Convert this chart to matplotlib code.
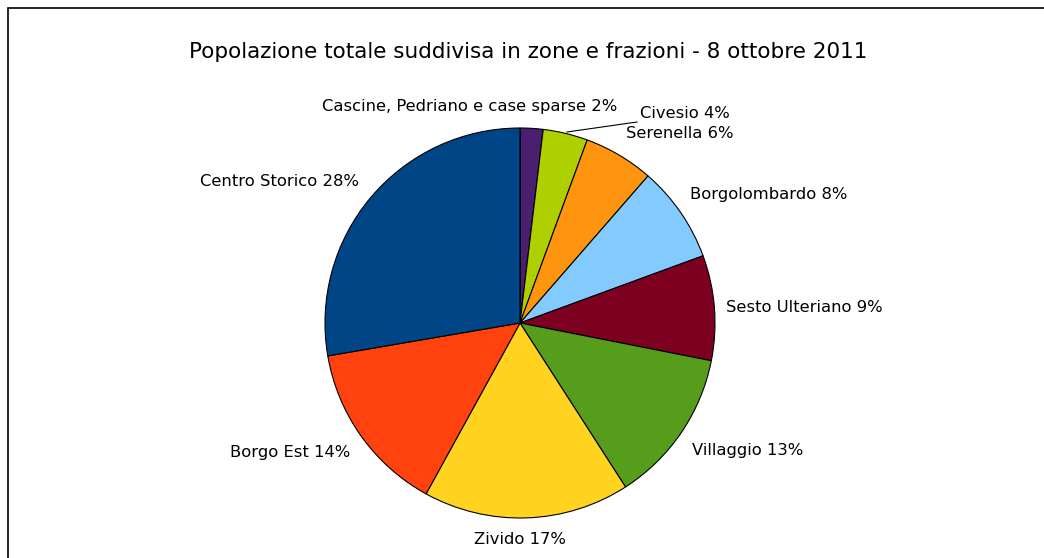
import matplotlib
matplotlib.use("Agg")
import matplotlib.pyplot as plt
from matplotlib.patches import Rectangle

# ----------------------------
# data (shares, clockwise from 12 o'clock)
# ----------------------------
ZONES = ["Cascine, Pedriano e case sparse", "Civesio", "Serenella", "Borgolombardo",
         "Sesto Ulteriano", "Villaggio", "Zivido", "Borgo Est", "Centro Storico"]
SHARES = [1.9, 3.7, 5.8, 8.0, 8.7, 12.8, 17.1, 14.3, 27.7]
COLORS = ["#4b1f6f", "#aecf00", "#ff950e", "#83caff", "#7e0021",
          "#579d1c", "#ffd320", "#ff420e", "#004586"]
TITLE = "Popolazione totale suddivisa in zone e frazioni - 8 ottobre 2011"

# label layout in pixel coords (x, y from top, horizontal alignment)
LABEL_POS = [(322, 107, "left"), (640, 113, "left"), (626, 133, "left"),
             (690, 195, "left"), (726, 308, "left"), (692, 450, "left"),
             (474, 540, "left"), (350, 453, "right"), (359, 181, "right")]

W, H = 1044, 558
CX, CY, R = 520, 323, 195

fig = plt.figure(figsize=(W / 100, H / 100), dpi=100)
ax = fig.add_axes([0, 0, 1, 1])
ax.set_xlim(0, W)
ax.set_ylim(0, H)
ax.set_aspect("equal")
ax.axis("off")

# frame (cropped on right and bottom in the original)
ax.add_patch(Rectangle((8, -10), W + 20, H - 8 + 10, fill=False,
                       edgecolor="black", linewidth=1.2))

wedges, _ = ax.pie(SHARES, colors=COLORS, startangle=90, counterclock=False,
                   center=(CX, H - CY), radius=R,
                   wedgeprops=dict(edgecolor="black", linewidth=0.8))
ax.set_xlim(0, W)
ax.set_ylim(0, H)

total = sum(SHARES)
for name, v, (x, y, ha) in zip(ZONES, SHARES, LABEL_POS):
    ax.text(x, H - y, f"{name} {round(v / total * 100)}%", ha=ha, va="center",
            fontsize=11.8, color="black")

# leader line for Civesio
ax.plot([567, 637], [H - 132, H - 122], color="black", linewidth=0.8)

ax.text(528, H - 52, TITLE, ha="center", va="center", fontsize=15.5)

fig.savefig("out.png", dpi=100)
